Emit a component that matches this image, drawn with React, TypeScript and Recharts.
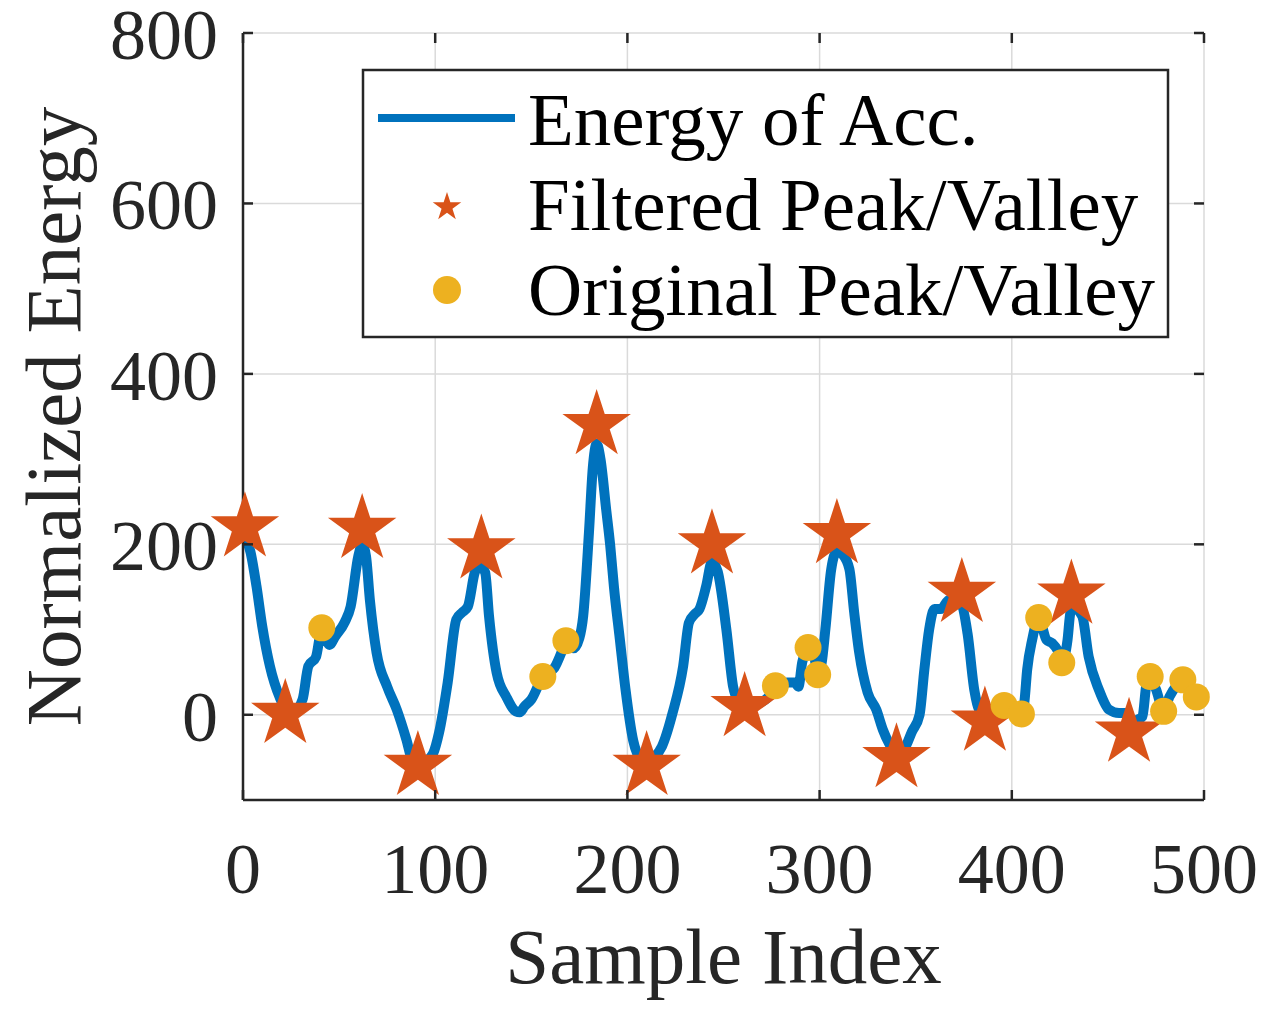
import React from 'react'
import { ComposedChart, Line, Scatter, XAxis, YAxis, CartesianGrid } from 'recharts'

// energy trace
const energyX = [
  1, 4, 7, 10, 14, 19, 23, 27, 31, 34, 38, 41, 45, 48, 53, 56, 60, 62, 64, 66,
  69.5, 75, 80, 85, 88, 91, 95, 99, 102, 106.5, 111, 114, 117, 120.6, 123, 126, 128, 132, 137, 142,
  144, 146.5, 150, 156, 162, 166, 168, 172, 175, 177, 180, 182, 184, 186, 189, 191, 193, 196, 199, 203,
  207, 210, 214, 218, 223.5, 229, 232, 235, 237.5, 241, 244, 247, 251.5, 255, 258, 262, 267, 272, 277, 283,
  287, 289, 291, 294, 297, 299, 301, 303, 306, 309, 312, 315.5, 318, 320.6, 325, 329.5, 333, 336, 340, 344,
  348, 352, 354.5, 357, 359.7, 363, 367.5, 371, 374, 377, 380.5, 383, 386, 390, 396, 401, 405, 406.5, 408, 410.6,
  414, 418, 421, 424, 426, 429, 430.5, 432, 436.6, 440, 445.4, 450.6, 455.8, 459.5, 463, 466, 468, 470, 472, 475,
  479, 482, 486, 489, 492, 496,
]
const energyY = [
  212, 190, 151, 104, 57, 21, 5, 5, 18, 57, 68, 100, 82, 92, 109, 127, 186, 200, 186, 135,
  73, 33, 6, -29, -53, -58, -55, -45, -21, 38, 112, 120, 127, 167, 176, 167, 116, 49, 21, 4,
  3, 10, 18, 45, 55, 75, 87, 78, 90, 116, 214, 290, 318, 300, 240, 200, 150, 90, 30, -30,
  -52, -55, -50, -37, 2, 57, 108, 118, 124, 151, 180, 168, 100, 33, 15, 8, 12, 18, 30, 38,
  38, 33, 62, 76, 70, 48, 60, 100, 170, 192, 188, 171, 120, 73, 26, 6, -18, -33, -45, -40,
  -20, 0, 53, 100, 124, 124, 135, 132, 128, 95, 29, 6, 0, 5, 11, 5, 2, 14, 53, 88,
  114, 88, 84, 75, 62, 88, 120, 126, 116, 68, 29, 6, 2, 2, -8, -5, -2, 35, 45, 30,
  5, 21, 35, 41, 30, 21,
]

// filtered peaks / valleys (stars)
const filteredX = [1, 22, 62, 91, 124, 184, 210, 244, 261, 309, 340, 374, 386, 431, 461]
const filteredY = [220, 1, 218, -60, 194, 340, -60, 200, 9, 212, -51, 143, -8, 141, -21]

// original peaks / valleys (dots)
const originalX = [41, 156, 168, 277, 294, 299, 396, 405, 414, 426, 472, 479, 489, 496]
const originalY = [102, 45, 87, 34, 79, 47, 11, 1, 114, 61, 45, 4, 41, 21]

const xTicks = [0, 100, 200, 300, 400, 500]
const yTicks = [0, 200, 400, 600, 800]

const COLORS = {
  line: '#0072BD',
  star: '#D95319',
  dot: '#EDB120',
  axis: '#262626',
  grid: '#dadada',
}

const FONT = '"Liberation Serif", "Times New Roman", serif'

const W = 1262
const H = 1011
const PLOT_LEFT = 243
const PLOT_RIGHT = 1204
const PLOT_TOP = 33
const PLOT_BOTTOM = 800
const TICK_LEN = 10

const lineData = energyX.map((x, i) => ({ x, y: energyY[i] }))
const starData = filteredX.map((x, i) => ({ x, y: filteredY[i] }))
const dotData = originalX.map((x, i) => ({ x, y: originalY[i] }))

const starPath = (cx: number, cy: number, R: number) => {
  const r = R * 0.382
  let d = ''
  for (let i = 0; i < 10; i++) {
    const a = ((-90 + i * 36) * Math.PI) / 180
    const rad = i % 2 === 0 ? R : r
    d += (i === 0 ? 'M' : 'L') + (cx + rad * Math.cos(a)).toFixed(2) + ',' + (cy + rad * Math.sin(a)).toFixed(2)
  }
  return d + 'Z'
}

const XTick = (props: any) => {
  const { x, payload } = props
  return (
    <g>
      <line x1={x} y1={PLOT_BOTTOM} x2={x} y2={PLOT_BOTTOM - TICK_LEN} stroke={COLORS.axis} strokeWidth={2.5} />
      <line x1={x} y1={PLOT_TOP} x2={x} y2={PLOT_TOP + TICK_LEN} stroke={COLORS.axis} strokeWidth={2.5} />
      <text x={x} y={893} textAnchor="middle" fontFamily={FONT} fontSize={72} fill={COLORS.axis}>
        {payload.value}
      </text>
    </g>
  )
}

const YTick = (props: any) => {
  const { y, payload } = props
  return (
    <g>
      <line x1={PLOT_LEFT} y1={y} x2={PLOT_LEFT + TICK_LEN} y2={y} stroke={COLORS.axis} strokeWidth={2.5} />
      <line x1={PLOT_RIGHT} y1={y} x2={PLOT_RIGHT - TICK_LEN} y2={y} stroke={COLORS.axis} strokeWidth={2.5} />
      <text x={218} y={y + 26} textAnchor="end" fontFamily={FONT} fontSize={72} fill={COLORS.axis}>
        {payload.value}
      </text>
    </g>
  )
}

const XTitle = () => (
  <text x={(PLOT_LEFT + PLOT_RIGHT) / 2} y={983} textAnchor="middle" fontFamily={FONT} fontSize={79} fill={COLORS.axis}>
    Sample Index
  </text>
)

const YTitle = () => {
  const cy = (PLOT_TOP + PLOT_BOTTOM) / 2
  return (
    <text
      x={80}
      y={cy}
      transform={`rotate(-90, 80, ${cy})`}
      textAnchor="middle"
      fontFamily={FONT}
      fontSize={79}
      fill={COLORS.axis}
    >
      Normalized Energy
    </text>
  )
}

const StarShape = (props: any) => <path d={starPath(props.cx, props.cy, 36)} fill={COLORS.star} />
const DotShape = (props: any) => <circle cx={props.cx} cy={props.cy} r={13.5} fill={COLORS.dot} />

const LegendBox = () => (
  <svg
    width={805}
    height={267}
    style={{ position: 'absolute', left: 363, top: 70, overflow: 'visible' }}
  >
    <rect x={0} y={0} width={805} height={267} fill="#fff" stroke={COLORS.axis} strokeWidth={2.5} />
    <line x1={15} y1={48} x2={152} y2={48} stroke={COLORS.line} strokeWidth={8} />
    <path d={starPath(84, 137, 15)} fill={COLORS.star} />
    <circle cx={84} cy={220} r={14} fill={COLORS.dot} />
    <g fontFamily={FONT} fontSize={75} fill="#000">
      <text x={165} y={75}>Energy of Acc.</text>
      <text x={165} y={160}>Filtered Peak/Valley</text>
      <text x={165} y={245}>Original Peak/Valley</text>
    </g>
  </svg>
)

export default function App() {
  return (
    <div style={{ position: 'absolute', left: 0, top: 0, width: W, height: H, background: '#fff' }}>
      <ComposedChart
        width={W}
        height={H}
        margin={{ top: PLOT_TOP, right: W - PLOT_RIGHT, bottom: H - PLOT_BOTTOM - 100, left: PLOT_LEFT - 100 }}
      >
        <CartesianGrid stroke={COLORS.grid} strokeWidth={1.5} />
        <XAxis
          dataKey="x"
          type="number"
          domain={[0, 500]}
          ticks={xTicks}
          height={100}
          axisLine={{ stroke: COLORS.axis, strokeWidth: 2.5 }}
          tickLine={false}
          tick={<XTick />}
          interval={0}
          label={<XTitle />}
        />
        <XAxis
          xAxisId="top"
          orientation="top"
          type="number"
          domain={[0, 500]}
          height={0}
          tick={false}
          tickLine={false}
          axisLine={{ stroke: COLORS.axis, strokeWidth: 2.5 }}
        />
        <YAxis
          dataKey="y"
          type="number"
          domain={[-100, 800]}
          ticks={yTicks}
          width={100}
          axisLine={{ stroke: COLORS.axis, strokeWidth: 2.5 }}
          tickLine={false}
          tick={<YTick />}
          interval={0}
          label={<YTitle />}
        />
        <YAxis
          yAxisId="right"
          orientation="right"
          type="number"
          domain={[-100, 800]}
          width={0}
          tick={false}
          tickLine={false}
          axisLine={{ stroke: COLORS.axis, strokeWidth: 2.5 }}
        />
        <Line
          data={lineData}
          dataKey="y"
          type="monotone"
          stroke={COLORS.line}
          strokeWidth={10}
          strokeLinejoin="round"
          dot={false}
          activeDot={false}
          isAnimationActive={false}
        />
        <Scatter data={starData} dataKey="y" shape={<StarShape />} isAnimationActive={false} />
        <Scatter data={dotData} dataKey="y" shape={<DotShape />} isAnimationActive={false} />
      </ComposedChart>
      <LegendBox />
    </div>
  )
}
